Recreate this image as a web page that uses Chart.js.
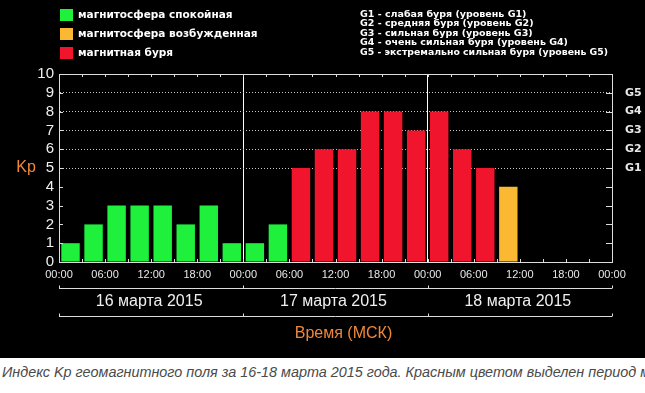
<!DOCTYPE html>
<html>
<head>
<meta charset="utf-8">
<script src="https://cdn.jsdelivr.net/npm/chart.js@4.4.1/dist/chart.umd.min.js"></script>
<style>
  body { margin: 0; background: #fff; width: 645px; height: 393px; overflow: hidden; }
  #myChart { display: block; }
  .caption {
    font-family: "Liberation Sans", Arial, sans-serif;
    font-style: italic;
    font-size: 14.4px;
    color: #4a4a4a;
    white-space: nowrap;
    overflow: hidden;
    padding: 6px 0 0 2px;
  }
</style>
</head>
<body>
<canvas id="myChart" width="645" height="358"></canvas>
<div class="caption">Индекс Kp геомагнитного поля за 16-18 марта 2015 года. Красным цветом выделен период магнитной бури.</div>
<script>
// Kp каждые 3 часа, 16-18 марта 2015
const kpValues = [1, 2, 3, 3, 3, 2, 3, 1,
                  1, 2, 5, 6, 6, 8, 8, 7,
                  8, 6, 5, 4];
const timeLabels = ['00:00', '06:00', '12:00', '18:00'];
const dayLabels = ['16 марта 2015', '17 марта 2015', '18 марта 2015'];
const gLevels = ['G1', 'G2', 'G3', 'G4', 'G5'];
const gDescriptions = [
    'G1 - слабая буря (уровень G1)',
    'G2 - средняя буря (уровень G2)',
    'G3 - сильная буря (уровень G3)',
    'G4 - очень сильная буря (уровень G4)',
    'G5 - экстремально сильная буря (уровень G5)'
];
const legendNames = ['магнитосфера спокойная', 'магнитосфера возбужденная', 'магнитная буря'];
const legendColors = ['#1ef03c', '#fbb832', '#f0142d'];

const orange = '#f0873a';
const lineColor = '#dddddd';

function barColor(v) {
    if (v >= 5) return legendColors[2];
    if (v == 4) return legendColors[1];
    return legendColors[0];
}

const kpPoints = kpValues.map((v, i) => ({ x: i + 0.5, y: v }));

const decorPlugin = {
    id: 'decor',
    beforeDraw(chart) {
        const ctx = chart.ctx;
        ctx.save();
        ctx.fillStyle = '#000';
        ctx.fillRect(0, 0, chart.width, chart.height);
        ctx.restore();
    },
    afterDraw(chart) {
        const ctx = chart.ctx;
        const a = chart.chartArea;
        const xs = chart.scales.x;
        const ys = chart.scales.y;
        ctx.save();

        // засечки по краям рамки
        ctx.strokeStyle = lineColor;
        ctx.lineWidth = 1;
        ctx.beginPath();
        for (let i = 1; i < 24; i++) {
            let px = Math.round(xs.getPixelForValue(i)) + 0.5;
            ctx.moveTo(px, a.top); ctx.lineTo(px, a.top + 3);
            ctx.moveTo(px, a.bottom); ctx.lineTo(px, a.bottom - 3);
        }
        for (let v = 1; v < 10; v++) {
            let py = Math.round(ys.getPixelForValue(v)) + 0.5;
            ctx.moveTo(a.left, py); ctx.lineTo(a.left + 4, py);
            ctx.moveTo(a.right, py); ctx.lineTo(a.right - 6, py);
        }
        ctx.stroke();

        // Kp
        ctx.fillStyle = orange;
        ctx.font = '16px "Liberation Sans", Arial, sans-serif';
        ctx.textAlign = 'center';
        ctx.textBaseline = 'middle';
        ctx.fillText('Kp', 26, (a.top + a.bottom) / 2);

        // скобки с датами
        const lines = [288.5, 316.5];
        ctx.strokeStyle = lineColor;
        ctx.beginPath();
        lines.forEach(y => {
            ctx.moveTo(xs.getPixelForValue(0), y);
            ctx.lineTo(xs.getPixelForValue(24), y);
            for (let d = 0; d <= 3; d++) {
                let px = Math.round(xs.getPixelForValue(d * 8)) + 0.5;
                ctx.moveTo(px, y - 3); ctx.lineTo(px, y);
            }
        });
        ctx.stroke();

        ctx.fillStyle = '#f0f0f0';
        ctx.font = '16px "Liberation Sans", Arial, sans-serif';
        dayLabels.forEach((t, d) => {
            let cx = (xs.getPixelForValue(d * 8) + xs.getPixelForValue(d * 8 + 8)) / 2;
            ctx.fillText(t, cx - 2, 302);
        });

        ctx.fillStyle = orange;
        ctx.fillText('Время (МСК)', (a.left + a.right) / 2 + 8, 334);

        // легенда
        ctx.textAlign = 'left';
        ctx.font = 'bold 10.5px "DejaVu Sans", sans-serif';
        legendNames.forEach((name, i) => {
            ctx.fillStyle = legendColors[i];
            ctx.fillRect(60, 9 + i * 19, 13, 12);
            ctx.fillStyle = '#fff';
            ctx.fillText(name, 78, 15.5 + i * 19, 190);
        });

        ctx.font = 'bold 9.5px "DejaVu Sans", sans-serif';
        gDescriptions.forEach((t, i) => {
            ctx.fillText(t, 360, 14.5 + i * 9.5, 248);
        });

        ctx.restore();
    }
};

const config = {
    type: 'bar',
    data: {
        datasets: [{
            data: kpPoints,
            backgroundColor: kpValues.map(barColor),
            borderWidth: 0,
            barPercentage: 0.8,
            categoryPercentage: 1
        }]
    },
    options: {
        responsive: false,
        animation: false,
        layout: { padding: { top: 74, left: 0, right: 0, bottom: 0 } },
        plugins: {
            legend: { display: false },
            tooltip: { enabled: false }
        },
        scales: {
            x: {
                type: 'linear',
                min: 0,
                max: 24,
                offset: false,
                ticks: {
                    stepSize: 1,
                    autoSkip: false,
                    maxRotation: 0,
                    padding: 6,
                    color: '#e8e8e8',
                    font: { family: '"Liberation Sans", Arial, sans-serif', size: 11 },
                    callback: function(v) {
                        return v % 2 === 0 ? timeLabels[(v / 2) % 4] : '';
                    }
                },
                grid: {
                    offset: false,
                    drawTicks: false,
                    color: ctx => (ctx.tick && (ctx.tick.value === 8 || ctx.tick.value === 16)) ? '#ffffff' : 'transparent'
                },
                border: { color: lineColor },
                afterFit: s => { s.height = 96; }
            },
            x2: {
                type: 'linear',
                position: 'top',
                min: 0,
                max: 24,
                offset: false,
                ticks: { display: false },
                grid: { display: false },
                border: { color: lineColor },
                afterFit: s => { s.height = 0; }
            },
            y: {
                min: 0,
                max: 10,
                ticks: {
                    stepSize: 1,
                    autoSkip: false,
                    padding: 5,
                    color: '#f0f0f0',
                    font: { family: '"Liberation Sans", Arial, sans-serif', size: 15 }
                },
                grid: {
                    drawTicks: false,
                    color: ctx => (ctx.tick && ctx.tick.value >= 5 && ctx.tick.value <= 9) ? '#c8c8c8' : 'transparent'
                },
                border: { color: lineColor, dash: [1, 2] },
                afterFit: s => { s.width = 59; }
            },
            y2: {
                position: 'right',
                min: 0,
                max: 10,
                ticks: {
                    stepSize: 1,
                    autoSkip: false,
                    padding: 5,
                    color: '#e8e8e8',
                    font: { family: '"DejaVu Sans", sans-serif', size: 11, weight: 'bold' },
                    callback: v => (v >= 5 && v <= 9) ? gLevels[v - 5] : ''
                },
                grid: { display: false },
                border: { color: lineColor },
                afterFit: s => { s.width = 33; }
            }
        }
    },
    plugins: [decorPlugin]
};

const myChart = new Chart(document.getElementById('myChart'), config);
</script>
</body>
</html>
